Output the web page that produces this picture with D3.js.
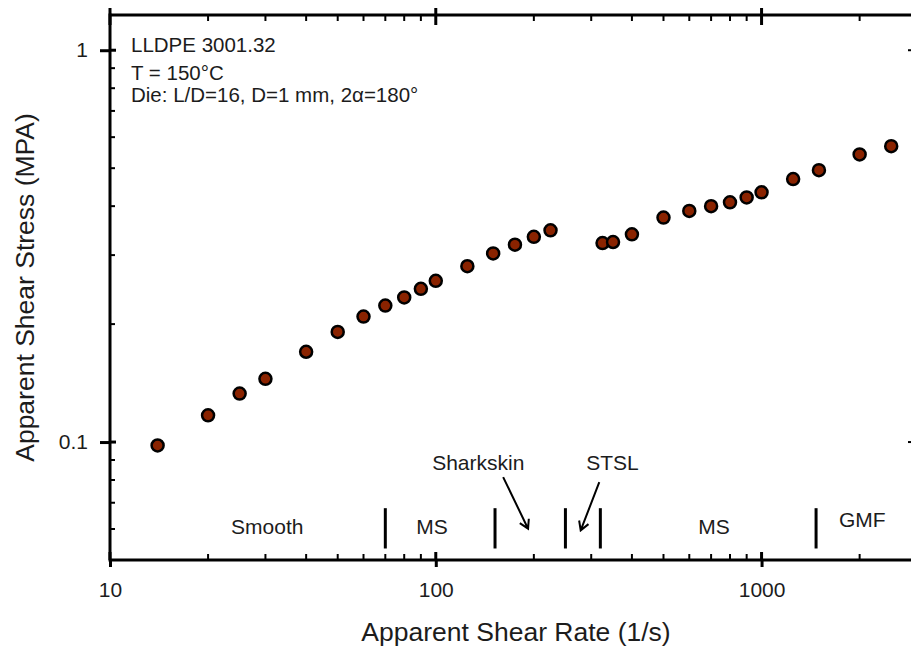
<!DOCTYPE html>
<html>
<head>
<meta charset="utf-8">
<script src="https://cdn.jsdelivr.net/npm/d3@7"></script>
<style>
  html, body { margin: 0; padding: 0; background: #fff; }
  svg { display: block; font-family: "Liberation Sans", Arial, sans-serif; }
</style>
</head>
<body>
<svg id="chart" width="911" height="655"></svg>
<script>
// Apparent shear rate (1/s) and apparent shear stress (MPa), LLDPE 3001.32 at 150 °C
const shearRate = [14, 20, 25, 30, 40, 50, 60, 70, 80, 90, 100, 125, 150, 175, 200, 225,
                   325, 350, 400, 500, 600, 700, 800, 900, 1000, 1250, 1500, 2000, 2500];
const shearStress = [0.098, 0.117, 0.133, 0.145, 0.170, 0.191, 0.209, 0.223, 0.234, 0.246,
                     0.258, 0.281, 0.303, 0.319, 0.334, 0.347,
                     0.322, 0.324, 0.339, 0.374, 0.389, 0.400, 0.409, 0.421, 0.434,
                     0.469, 0.494, 0.542, 0.569];

// Axis settings
const xDomain = [10, 3000];
const yDomain = [0.05, 1.23];
const xMajorTicks = [10, 100, 1000];
const yMajorTicks = [0.1, 1];

// Flow-regime boundaries (shear rate) and labels
const regimeBounds = [70, 152, 250, 320, 1470];
const regimeBoundSpan = [0.0535, 0.0678];
const regimeLabels = ["Smooth", "MS", "Sharkskin", "STSL", "MS", "GMF"];
const regimeLabelX = [30.4, 97.3, 135, 348.6, 714, 2039];
const regimeLabelY = [0.0581, 0.0581, 0.0847, 0.0847, 0.0581, 0.0606];

// Arrows from the Sharkskin / STSL labels down to their bands: [x0, y0, x1, y1]
const regimeArrows = [
  [161, 0.0814, 192, 0.0601],
  [317.6, 0.0790, 278.5, 0.0595]
];

// Header text
const infoLines = ["LLDPE 3001.32", "T = 150°C", "Die: L/D=16, D=1 mm, 2α=180°"];

const svg = d3.select("#chart");
const plotLeft = 110, plotRight = 917, plotTop = 15, plotBottom = 560;

const x = d3.scaleLog().domain(xDomain).range([plotLeft, plotRight]);
const y = d3.scaleLog().domain(yDomain).range([plotBottom, plotTop]);

const ink = "#000";
const textInk = "#1c1c1c";

// minor tick values inside the domains
const xMinor = [];
for (let d = 10; d < 10000; d *= 10) {
  for (let k = 2; k <= 9; k++) {
    const v = d * k;
    if (v > xDomain[0] && v < xDomain[1]) xMinor.push(v);
  }
}
const yMinor = [];
for (let d = 0.01; d < 10; d *= 10) {
  for (let k = 2; k <= 9; k++) {
    const v = +(d * k).toPrecision(6);
    if (v > yDomain[0] && v < yDomain[1]) yMinor.push(v);
  }
}

// frame
const frame = svg.append("g").attr("stroke", ink).attr("stroke-width", 3).attr("fill", "none");
frame.append("line").attr("x1", plotLeft).attr("x2", plotRight).attr("y1", plotBottom).attr("y2", plotBottom);
frame.append("line").attr("x1", plotLeft).attr("x2", plotRight).attr("y1", plotTop).attr("y2", plotTop);
frame.append("line").attr("x1", plotLeft).attr("x2", plotLeft).attr("y1", plotTop - 1.5).attr("y2", plotBottom + 1.5);
frame.append("line").attr("x1", plotRight).attr("x2", plotRight).attr("y1", plotTop - 1.5).attr("y2", plotBottom + 1.5);

// bottom axis with labels
const xAxis = d3.axisBottom(x).tickValues(xMajorTicks).tickFormat(d3.format("d"))
  .tickSizeInner(7).tickSizeOuter(0).tickPadding(15);
const gx = svg.append("g").attr("transform", `translate(0,${plotBottom})`).call(xAxis);
gx.select(".domain").remove();
gx.selectAll(".tick line").attr("stroke", ink).attr("stroke-width", 3);
gx.selectAll(".tick text").attr("fill", textInk).attr("font-size", 21)
  .attr("font-family", "Liberation Sans, Arial, sans-serif");

// left axis with labels
const yAxis = d3.axisLeft(y).tickValues(yMajorTicks).tickFormat(d => String(d))
  .tickSizeInner(10).tickSizeOuter(0).tickPadding(12);
const gy = svg.append("g").attr("transform", `translate(${plotLeft},0)`).call(yAxis);
gy.select(".domain").remove();
gy.selectAll(".tick line").attr("stroke", ink).attr("stroke-width", 3);
gy.selectAll(".tick text").attr("fill", textInk).attr("font-size", 21)
  .attr("font-family", "Liberation Sans, Arial, sans-serif");

// inward parts of major ticks, minor ticks, and mirrored ticks on top/right
const tk = svg.append("g").attr("stroke", ink);
xMajorTicks.forEach(v => {
  tk.append("line").attr("x1", x(v)).attr("x2", x(v)).attr("y1", plotBottom).attr("y2", plotBottom - 8).attr("stroke-width", 3);
  tk.append("line").attr("x1", x(v)).attr("x2", x(v)).attr("y1", plotTop - 7).attr("y2", plotTop + 10).attr("stroke-width", 3);
});
xMinor.forEach(v => {
  tk.append("line").attr("x1", x(v)).attr("x2", x(v)).attr("y1", plotBottom).attr("y2", plotBottom - 6).attr("stroke-width", 2);
  tk.append("line").attr("x1", x(v)).attr("x2", x(v)).attr("y1", plotTop).attr("y2", plotTop + 6).attr("stroke-width", 2);
});
yMajorTicks.forEach(v => {
  tk.append("line").attr("x1", plotLeft).attr("x2", plotLeft + 6).attr("y1", y(v)).attr("y2", y(v)).attr("stroke-width", 3);
  tk.append("line").attr("x1", plotRight).attr("x2", plotRight - 9).attr("y1", y(v)).attr("y2", y(v)).attr("stroke-width", 2);
});
yMinor.forEach(v => {
  tk.append("line").attr("x1", plotLeft).attr("x2", plotLeft + 5).attr("y1", y(v)).attr("y2", y(v)).attr("stroke-width", 2);
  tk.append("line").attr("x1", plotRight).attr("x2", plotRight - 5).attr("y1", y(v)).attr("y2", y(v)).attr("stroke-width", 2);
});

// axis titles
svg.append("text")
  .attr("x", 516)
  .attr("y", 641)
  .attr("text-anchor", "middle")
  .attr("font-size", 26.5)
  .attr("fill", textInk)
  .text("Apparent Shear Rate (1/s)");

svg.append("text")
  .attr("transform", `translate(34,${(plotTop + plotBottom) / 2}) rotate(-90)`)
  .attr("text-anchor", "middle")
  .attr("font-size", 26.5)
  .attr("fill", textInk)
  .text("Apparent Shear Stress (MPA)");

// header information
const info = svg.append("g").attr("fill", textInk).attr("font-size", 20.5);
const infoBase = [52, 80, 102];
infoLines.forEach((s, i) => {
  info.append("text").attr("x", 131).attr("y", infoBase[i]).text(s);
});

// regime boundaries
svg.append("g").attr("stroke", ink).attr("stroke-width", 3)
  .selectAll("line").data(regimeBounds).join("line")
  .attr("x1", d => x(d)).attr("x2", d => x(d))
  .attr("y1", y(regimeBoundSpan[1])).attr("y2", y(regimeBoundSpan[0]));

// regime labels
svg.append("g").attr("fill", textInk).attr("font-size", 21).attr("text-anchor", "middle")
  .selectAll("text").data(regimeLabels).join("text")
  .attr("x", (d, i) => x(regimeLabelX[i]))
  .attr("y", (d, i) => y(regimeLabelY[i]))
  .text(d => d);

// arrows with open heads
const arrows = svg.append("g").attr("stroke", ink).attr("stroke-width", 2).attr("fill", "none");
regimeArrows.forEach(a => {
  const x0 = x(a[0]), y0 = y(a[1]), x1 = x(a[2]), y1 = y(a[3]);
  const ang = Math.atan2(y1 - y0, x1 - x0);
  const hl = 10, spread = Math.PI / 6;
  const p1 = [x1 - hl * Math.cos(ang - spread), y1 - hl * Math.sin(ang - spread)];
  const p2 = [x1 - hl * Math.cos(ang + spread), y1 - hl * Math.sin(ang + spread)];
  arrows.append("path").attr("d", `M${x0},${y0}L${x1},${y1}M${p1[0]},${p1[1]}L${x1},${y1}L${p2[0]},${p2[1]}`);
});

// data points
svg.append("g")
  .selectAll("circle").data(shearRate).join("circle")
  .attr("cx", d => x(d))
  .attr("cy", (d, i) => y(shearStress[i]))
  .attr("r", 6)
  .attr("fill", "#8a2300")
  .attr("stroke", ink)
  .attr("stroke-width", 2.5);
</script>
</body>
</html>
